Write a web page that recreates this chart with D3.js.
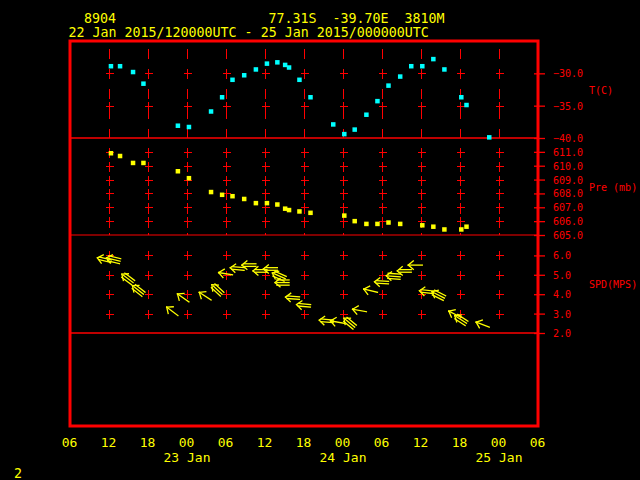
<!DOCTYPE html>
<html><head><meta charset="utf-8">
<script src="https://cdn.jsdelivr.net/npm/d3@7"></script>
<style>html,body{margin:0;padding:0;background:#000;} svg{display:block;}</style>
</head><body>
<script>
// ---- data ----
const stationId = "8904";
const stationInfo = ["77.31S", "-39.70E", "3810M"];
const periodLabel = "22 Jan 2015/120000UTC - 25 Jan 2015/000000UTC";
const pageNumber = "2";
const baseTime = Date.UTC(2015, 0, 22, 0, 0, 0);   // hours below are counted from here
const hours   = [12.3, 13.7, 15.7, 17.3, 22.6, 24.3, 27.7, 29.4, 31.0, 32.8, 34.6, 36.3, 37.9, 39.1, 39.7, 41.3,
                 43.0, 46.5, 48.2, 49.8, 51.6, 53.3, 55.0, 56.8, 58.5, 60.2, 61.9, 63.6, 66.2, 67.0, 70.5];
const tempC   = [-28.9, -28.9, -29.8, -31.6, -38.1, -38.3, -35.9, -33.7, -31.0, -30.3, -29.4, -28.5, -28.3, -28.7, -29.1, -31.0,
                 -33.7, -37.9, -39.4, -38.7, -36.4, -34.3, -31.9, -30.5, -28.9, -28.9, -27.8, -29.4, -33.7, -34.9, -39.9];
const presMb  = [610.9, 610.7, 610.2, 610.2, 609.6, 609.1, 608.1, 607.9, 607.8, 607.6, 607.3, 607.3, 607.2, 606.9, 606.8, 606.7,
                 606.6, null, 606.4, 606.0, 605.8, 605.8, 605.9, 605.8, null, 605.7, 605.6, 605.4, 605.4, 605.6, null];
const windSpd = [5.7, 5.7, 4.6, 4.0, 2.9, 3.6, 3.7, 4.0, 5.0, 5.3, 5.5, 5.2, 5.3, 4.8, 4.6, 3.8,
                 3.4, 2.6, 2.5, 2.3, 3.1, 4.1, 4.6, 4.9, 5.2, 5.5, 4.1, 3.8, 2.8, 2.5, 2.3];
const windDir = [104, 104, 127, 128, 127, 125, 123, 133, 99, 95, 90, 90, 90, 114, 90, 94,
                 95, 95, 100, 130, 100, 103, 93, 94, 90, 90, 96, 117, 117, 123, 111];
const windLines = [2, 3, 3, 3, 1, 1, 1, 3, 1, 2, 2, 2, 2, 3, 3, 2,
                   2, 2, 1, 3, 1, 1, 2, 3, 2, 1, 2, 3, 1, 3, 1];
const tempTicks = [-30, -35, -40];
const presTicks = [611, 610, 609, 608, 607, 606, 605];
const spdTicks  = [6, 5, 4, 3, 2];
const timeTickHours = [6, 12, 18, 24, 30, 36, 42, 48, 54, 60, 66, 72, 78];
const dayLabelHours = [24, 48, 72];

// ---- drawing ----
const W = 640, H = 480;
const RED = "#ff0000", YEL = "#ffff00", CYAN = "#00ffff";
const FONT = "'DejaVu Sans Mono', 'Liberation Mono', monospace";
const t = h => new Date(baseTime + h * 3600e3);

const svg = d3.select("body").append("svg").attr("width", W).attr("height", H)
  .style("background", "#000");
svg.append("rect").attr("width", W).attr("height", H).attr("fill", "#000");

const x  = d3.scaleUtc().domain([t(6), t(78)]).range([70, 538]);
const yT = d3.scaleLinear().domain([-40, -25]).range([138, 41]);
const yP = d3.scaleLinear().domain([605, 612]).range([235, 138]);
const yS = d3.scaleLinear().domain([2, 7]).range([333, 236]);

const samples = hours.map((h, i) => ({ t: t(h), T: tempC[i], P: presMb[i], spd: windSpd[i], dir: windDir[i], n: windLines[i] }));

// grid
const grid = svg.append("g").attr("stroke", RED).attr("stroke-width", 1).attr("shape-rendering", "crispEdges");
const gridHours = timeTickHours.filter(h => h > 6 && h < 78);
gridHours.forEach(h => {
  const gx = Math.round(x(t(h))) + 0.5;
  grid.append("line").attr("x1", gx).attr("x2", gx).attr("y1", 49).attr("y2", 138).attr("stroke-dasharray", "10,10");
  grid.append("line").attr("x1", gx).attr("x2", gx).attr("y1", 149).attr("y2", 235).attr("stroke-dasharray", "9,5");
  const cross = (cy) => {
    const yy = Math.round(cy) + 0.5;
    grid.append("line").attr("x1", gx - 4).attr("x2", gx + 4).attr("y1", yy).attr("y2", yy);
    grid.append("line").attr("x1", gx).attr("x2", gx).attr("y1", yy - 4.5).attr("y2", yy + 4.5);
  };
  tempTicks.filter(v => v > -40).forEach(v => cross(yT(v)));
  presTicks.filter(v => v > 605).forEach(v => cross(yP(v)));
  spdTicks.filter(v => v > 2).forEach(v => cross(yS(v)));
});

// panel separators
svg.append("line").attr("x1", 70).attr("x2", 538).attr("y1", yT(-40)).attr("y2", yT(-40)).attr("stroke", RED).attr("stroke-width", 1.5);
svg.append("line").attr("x1", 70).attr("x2", 538).attr("y1", yP(605)).attr("y2", yP(605)).attr("stroke", RED).attr("stroke-width", 1);
svg.append("line").attr("x1", 70).attr("x2", 538).attr("y1", yS(2)).attr("y2", yS(2)).attr("stroke", RED).attr("stroke-width", 1.6);

// temperature squares
const sq = 4.5;
svg.append("g").selectAll("rect").data(samples.filter(d => d.T != null)).join("rect")
  .attr("x", d => x(d.t) - sq / 2).attr("y", d => yT(d.T) - sq / 2)
  .attr("width", sq).attr("height", sq).attr("fill", CYAN);

// pressure squares
svg.append("g").selectAll("rect").data(samples.filter(d => d.P != null)).join("rect")
  .attr("x", d => x(d.t) - sq / 2).attr("y", d => yP(d.P) - sq / 2)
  .attr("width", sq).attr("height", sq).attr("fill", YEL);

// wind arrows (tail at the sample, pointing where the wind blows to)
const L = 14, headLen = 6.5, headAng = 40 * Math.PI / 180;
const wg = svg.append("g").attr("stroke", YEL).attr("stroke-width", 1.3).attr("fill", "none")
  .attr("stroke-linecap", "square");
samples.filter(d => d.spd != null).forEach(d => {
  const x0 = x(d.t), y0 = yS(d.spd);
  const b = (d.dir + 180) * Math.PI / 180;
  const ux = Math.sin(b), uy = -Math.cos(b);
  const px = -uy, py = ux;
  const tx = x0 + L * ux, ty = y0 + L * uy;
  for (let k = 0; k < d.n; k++) {
    const o = (k - (d.n - 1) / 2) * 2.6;
    const shorten = d.n > 1 ? 1.8 : 0;
    wg.append("line")
      .attr("x1", x0 + px * o).attr("y1", y0 + py * o)
      .attr("x2", tx + px * o - ux * shorten).attr("y2", ty + py * o - uy * shorten);
  }
  [headAng, -headAng].forEach(a => {
    const bx = -ux, by = -uy;
    const rx = bx * Math.cos(a) - by * Math.sin(a);
    const ry = bx * Math.sin(a) + by * Math.cos(a);
    wg.append("line").attr("x1", tx).attr("y1", ty).attr("x2", tx + rx * headLen).attr("y2", ty + ry * headLen);
  });
});

// frame
svg.append("rect").attr("x", 70).attr("y", 41).attr("width", 468).attr("height", 385)
  .attr("fill", "none").attr("stroke", RED).attr("stroke-width", 3);

// right axes
function rightAxis(scale, ticks) {
  const g = svg.append("g").attr("transform", "translate(534,0)")
    .call(d3.axisRight(scale).tickValues(ticks).tickFormat(d3.format(".1f")).tickSize(11).tickPadding(8));
  g.select(".domain").remove();
  g.selectAll(".tick line").attr("stroke", RED).attr("stroke-width", 1.3);
  g.selectAll(".tick text").attr("fill", RED).attr("font-family", FONT).attr("font-size", 10).attr("dy", "0.35em");
}
rightAxis(yT, tempTicks);
rightAxis(yP, presTicks);
rightAxis(yS, spdTicks);

const axTitle = (txt, yy) => svg.append("text").attr("x", 589).attr("y", yy).attr("dy", "0.35em")
  .attr("fill", RED).attr("font-family", FONT).attr("font-size", 10).text(txt);
axTitle("T(C)", 90);
axTitle("Pre (mb)", 187);
axTitle("SPD(MPS)", 284);

// bottom time axis
const xa = svg.append("g").attr("transform", "translate(-1,437)")
  .call(d3.axisBottom(x).tickValues(timeTickHours.map(t)).tickFormat(d3.utcFormat("%H")).tickSize(0).tickPadding(0));
xa.select(".domain").remove();
xa.selectAll(".tick text").attr("fill", YEL).attr("font-family", FONT).attr("font-size", 13).attr("dy", "0.8em");

const dg = svg.append("g");
dg.selectAll("text").data(dayLabelHours).join("text")
  .attr("x", h => x(t(h))).attr("y", 462).attr("text-anchor", "middle")
  .attr("fill", YEL).attr("font-family", FONT).attr("font-size", 13)
  .text(h => d3.utcFormat("%d %b")(t(h)));

// titles
const ytxt = (s, xx, yy) => svg.append("text").attr("x", xx).attr("y", yy).attr("fill", YEL)
  .attr("font-family", FONT).attr("font-size", 13.3).attr("xml:space", "preserve").style("white-space", "pre").text(s);
ytxt(stationId, 84, 23);
ytxt(stationInfo.join("  "), 268.5, 23);
ytxt(periodLabel, 68.5, 37);
ytxt(pageNumber, 14, 478);
</script>
</body></html>
